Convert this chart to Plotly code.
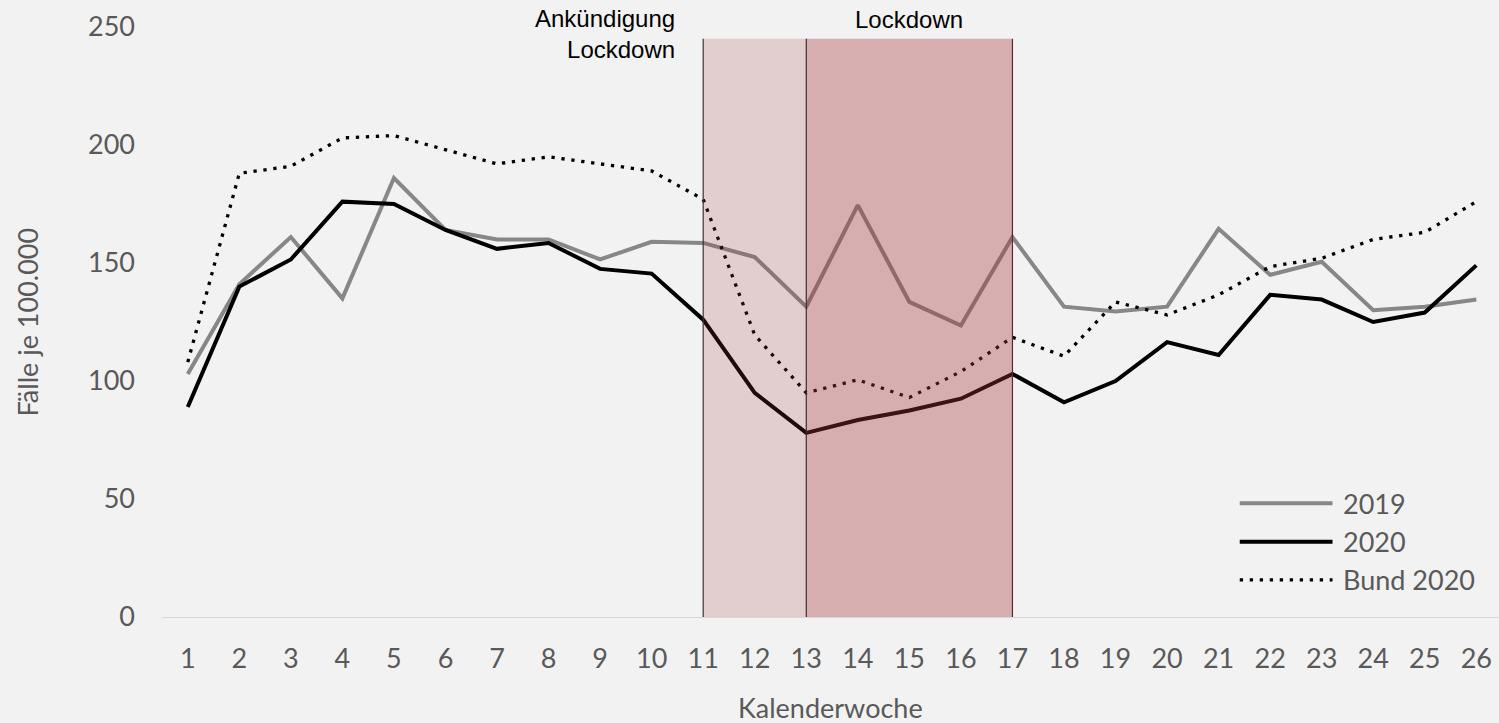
import plotly.graph_objects as go

weeks = list(range(1, 27))
tick_labels = [str(w) for w in weeks]
y2019 = [103, 141, 161, 135, 186, 164, 160, 160, 151.5, 159, 158.5, 152.5, 131.5,
         174.5, 133.5, 123.5, 161, 131.5, 129.5, 131.5, 164.5, 145, 150.5, 130, 131.5, 134.5]
y2020 = [89, 140, 151.5, 176, 175, 164, 156, 158.5, 147.5, 145.5, 126, 95, 78,
         83.5, 87.5, 92.5, 103, 91, 100, 116.5, 111, 136.5, 134.5, 125, 129, 149]
bund2020 = [108, 188, 191, 203, 204, 198, 192, 195, 192, 189, 177, 119.5, 95,
            100.5, 93, 104, 118.5, 110.5, 133.5, 128, 136.5, 148.5, 152, 160, 163, 176]
series_names = ["2019", "2020", "Bund 2020"]
y_ticks = [0, 50, 100, 150, 200, 250]

announce_week = [11, 13]
lockdown_week = [13, 17]

TICK_FONT = dict(family="Lato, Open Sans, sans-serif", size=27, color="#595959")
LABEL_FONT = dict(family="Liberation Sans, Arial, sans-serif", size=24, color="#000000")

styles = [
    dict(color="#878787", width=4),
    dict(color="#000000", width=4),
    dict(color="#000000", width=3.3, dash="3.3px,6.7px"),
]

fig = go.Figure()
for name, ys, st in zip(series_names, [y2019, y2020, bund2020], styles):
    fig.add_trace(go.Scatter(x=weeks, y=ys, mode="lines", name=name, line=st,
                             showlegend=False))

# shaded periods
fig.add_shape(type="rect", xref="x", yref="y", x0=announce_week[0], x1=announce_week[1],
              y0=0, y1=245, fillcolor="rgba(166,53,56,0.19)",
              line=dict(width=0), layer="above")
fig.add_shape(type="rect", xref="x", yref="y", x0=lockdown_week[0], x1=lockdown_week[1],
              y0=0, y1=245, fillcolor="rgba(166,53,56,0.36)",
              line=dict(width=0), layer="above")
for xv, col in zip([announce_week[0], lockdown_week[0], lockdown_week[1]],
                   ["#3d3333", "#3d2c2c", "#5a2a2a"]):
    fig.add_shape(type="line", xref="x", yref="y", x0=xv, x1=xv, y0=0, y1=245,
                  line=dict(color=col, width=1.2), layer="above")

fig.add_annotation(x=announce_week[0], y=247, xref="x", yref="y", xanchor="right",
                   yanchor="middle", xshift=-26, align="right", showarrow=False,
                   text="Ankündigung<br>Lockdown", font=LABEL_FONT)
fig.add_annotation(x=(lockdown_week[0] + lockdown_week[1]) / 2, y=1.0119, xref="x", yref="paper",
                   xanchor="center", yanchor="middle", showarrow=False,
                   text="Lockdown", font=LABEL_FONT)

# custom legend
leg_y = [48.2, 31.9, 15.7]
for name, st, ly in zip(series_names, styles, leg_y):
    fig.add_shape(type="line", xref="x", yref="y", x0=21.41, x1=23.21, y0=ly, y1=ly,
                  line=st)
    fig.add_annotation(x=23.38, y=ly, xref="x", yref="y", xanchor="left", yanchor="middle",
                       showarrow=False, text=name, font=TICK_FONT)

# axis titles
fig.add_annotation(x=-0.1006, y=0.5, xref="paper", yref="paper", textangle=-90,
                   xanchor="center", yanchor="middle", showarrow=False,
                   text="Fälle je 100.000", font=TICK_FONT)
fig.add_annotation(x=0.5, y=-0.154, xref="paper", yref="paper",
                   xanchor="center", yanchor="middle", showarrow=False,
                   text="Kalenderwoche", font=TICK_FONT)

fig.update_layout(
    width=1499, height=723,
    margin=dict(l=162, r=0, t=27, b=106),
    paper_bgcolor="#f2f2f2", plot_bgcolor="#f2f2f2",
    showlegend=False,
)
fig.update_xaxes(range=[0.5, 26.44], tickmode="array", tickvals=weeks, ticktext=tick_labels,
                 showgrid=False, zeroline=False, showline=True, linecolor="#d9d9d9",
                 linewidth=1, ticks="", tickfont=TICK_FONT, ticklabelstandoff=18)
fig.update_yaxes(range=[0, 250], tickvals=y_ticks, showgrid=False, zeroline=False,
                 showline=False, ticks="", tickfont=TICK_FONT, ticklabelstandoff=26)

fig.write_html("out.html", config={"displayModeBar": False},
               post_script="document.body.style.margin='0';document.body.style.overflow='hidden';")
